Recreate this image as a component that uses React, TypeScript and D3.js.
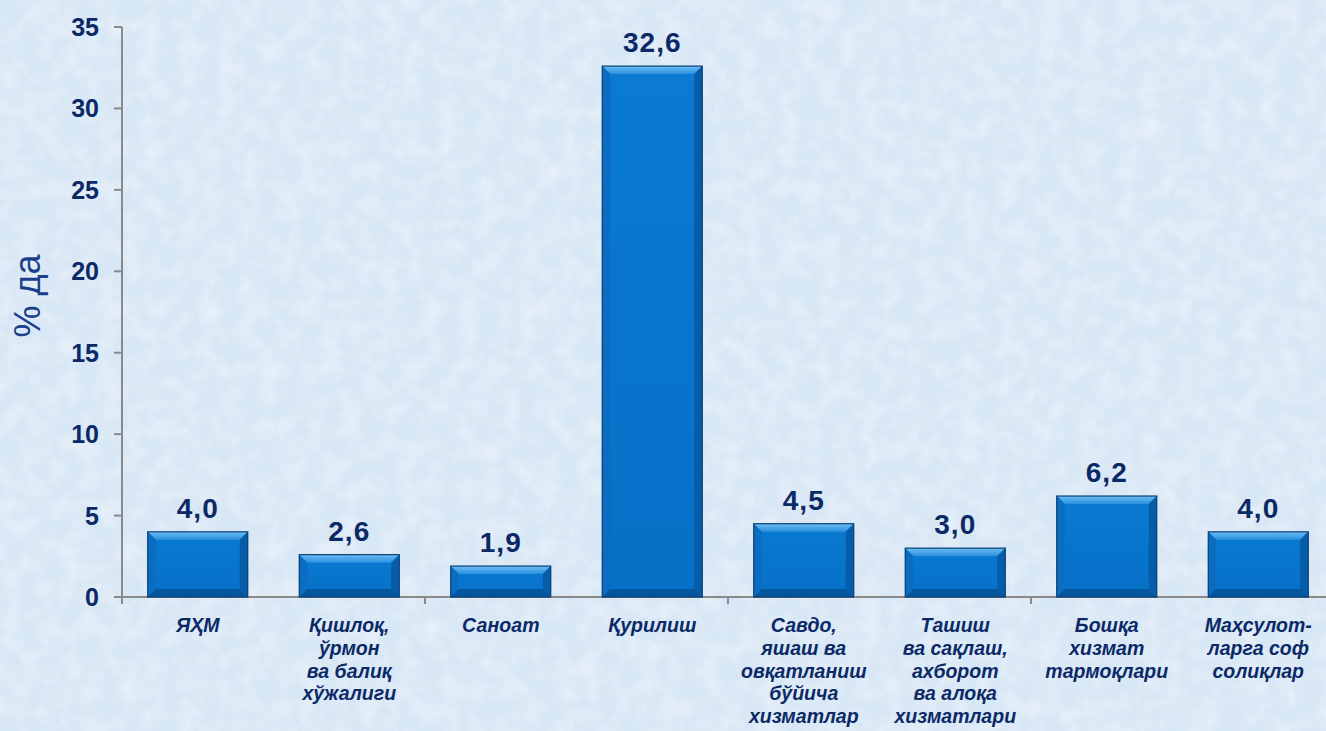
import React from "react";
import * as d3 from "d3";

const categories: string[][] = [
  ["ЯҲМ"],
  ["Қишлоқ,", "ўрмон", "ва балиқ", "хўжалиги"],
  ["Саноат"],
  ["Қурилиш"],
  ["Савдо,", "яшаш ва", "овқатланиш", "бўйича", "хизматлар"],
  ["Ташиш", "ва сақлаш,", "ахборот", "ва алоқа", "хизматлари"],
  ["Бошқа", "хизмат", "тармоқлари"],
  ["Маҳсулот-", "ларга соф", "солиқлар"],
];
const values: number[] = [4.0, 2.6, 1.9, 32.6, 4.5, 3.0, 6.2, 4.0];
const yTicks: number[] = [0, 5, 10, 15, 20, 25, 30, 35];
const yTitle = "% да";

const W = 1326;
const H = 731;
const FONT = "'Liberation Sans', Arial, sans-serif";
const NAVY = "#0b2966";

export default function App() {
  const ids = categories.map((_, i) => String(i));
  const x = d3.scaleBand<string>().domain(ids).range([122, 1334]).paddingInner(0.34).paddingOuter(0.17);
  const y = d3.scaleLinear().domain([0, 35]).range([597, 27]);
  const step = x.step();
  const bw = x.bandwidth();
  const bev = 8;
  const fmt = (v: number) => v.toFixed(1).replace(".", ",");
  const xTickPositions = d3.range(0, categories.length + 1, 2).map((i) => 122 + i * step);

  return (
    <div style={{ position: "fixed", left: 0, top: 0 }}>
      <svg width={W} height={H} style={{ display: "block" }}>
        <defs>
          <filter id="paper" x="0" y="0" width="100%" height="100%">
            <feTurbulence type="fractalNoise" baseFrequency="0.05" numOctaves="3" seed="4" result="n" />
            <feColorMatrix
              in="n"
              type="matrix"
              values="0 0 0 0 1  0 0 0 0 1  0 0 0 0 1  0 0 0 1.4 -0.5"
            />
          </filter>
          <linearGradient id="barFace" x1="0" x2="0" y1="0" y2="1">
            <stop offset="0" stopColor="#0a7ad2" />
            <stop offset="1" stopColor="#0670c6" />
          </linearGradient>
          <linearGradient id="bevTop" x1="0" x2="0" y1="0" y2="1">
            <stop offset="0" stopColor="#6dbdf4" />
            <stop offset="1" stopColor="#2a8fe0" />
          </linearGradient>
        </defs>
        <rect x={0} y={0} width={W} height={H} fill="#d8e7f5" />
        <rect x={0} y={0} width={W} height={H} filter="url(#paper)" opacity={0.5} />

        {/* axes */}
        <line x1={122} x2={122} y1={y(35)} y2={y(0)} stroke="#8a8a8a" strokeWidth={2} />
        <line x1={114} x2={W} y1={y(0)} y2={y(0)} stroke="#8a8a8a" strokeWidth={2} />
        {yTicks.map((t) => (
          <g key={t}>
            <line x1={114} x2={122} y1={y(t)} y2={y(t)} stroke="#8a8a8a" strokeWidth={2} />
            <text
              x={99}
              y={y(t)}
              dy="0.36em"
              textAnchor="end"
              fontFamily={FONT}
              fontWeight="bold"
              fontSize={25}
              fill={NAVY}
            >
              {t}
            </text>
          </g>
        ))}
        {xTickPositions.map((px, i) => (
          <line key={i} x1={px} x2={px} y1={y(0)} y2={y(0) + 7} stroke="#8a8a8a" strokeWidth={2} />
        ))}

        <text
          transform={`translate(40,${296}) rotate(-90)`}
          textAnchor="middle"
          fontFamily={FONT}
          fontSize={36}
          fill="#1c3f8c"
        >
          {yTitle}
        </text>

        {/* bars */}
        {values.map((v, i) => {
          const x0 = x(String(i))!;
          const x1 = x0 + bw;
          const y0 = y(v);
          const y1 = y(0);
          const h = y1 - y0;
          const b = Math.min(bev, h / 2);
          return (
            <g key={i}>
              <rect x={x0} y={y0} width={bw} height={h} fill="url(#barFace)" />
              <polygon
                points={`${x0},${y0} ${x1},${y0} ${x1 - b},${y0 + b} ${x0 + b},${y0 + b}`}
                fill="url(#bevTop)"
              />
              <polygon
                points={`${x0},${y0} ${x0 + b},${y0 + b} ${x0 + b},${y1 - b} ${x0},${y1}`}
                fill="#0b6dc0"
              />
              <polygon
                points={`${x1},${y0} ${x1 - b},${y0 + b} ${x1 - b},${y1 - b} ${x1},${y1}`}
                fill="#055ca8"
              />
              <polygon
                points={`${x0},${y1} ${x0 + b},${y1 - b} ${x1 - b},${y1 - b} ${x1},${y1}`}
                fill="#04579f"
              />
              <rect x={x0} y={y0} width={bw} height={h} fill="none" stroke="#0b3f74" strokeWidth={1.2} />
              <text
                x={x0 + bw / 2}
                y={y0 - 14}
                textAnchor="middle"
                fontFamily={FONT}
                fontWeight="bold"
                fontSize={28}
                letterSpacing={1}
                fill={NAVY}
              >
                {fmt(v)}
              </text>
            </g>
          );
        })}

        {/* category labels */}
        {categories.map((lines, i) => (
          <text
            key={i}
            x={x(String(i))! + bw / 2}
            y={632}
            textAnchor="middle"
            fontFamily={FONT}
            fontWeight="bold"
            fontStyle="italic"
            fontSize={19.5}
            fill={NAVY}
          >
            {lines.map((ln, j) => (
              <tspan key={j} x={x(String(i))! + bw / 2} dy={j === 0 ? 0 : 22.8}>
                {ln}
              </tspan>
            ))}
          </text>
        ))}
      </svg>
    </div>
  );
}
